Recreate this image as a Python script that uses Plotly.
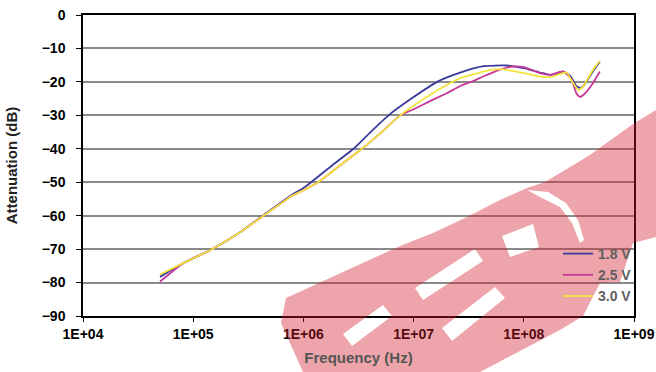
import plotly.graph_objects as go

# Frequency points (Hz) and attenuation (dB) for each supply voltage
freq_18 = [5.0e4, 8.1e4, 1.45e5, 2.7e5, 4.4e5, 7.6e5, 1.0e6, 1.175e6, 1.82e6, 2.85e6,
           4.07e6, 5.92e6, 9.55e6, 1.63e7, 2.6e7, 4.3e7, 7.0e7, 1.0e8, 1.4e8, 1.74e8,
           2.3e8, 2.65e8, 3.0e8, 3.3e8, 3.6e8, 4.25e8, 4.9e8]
att_18 = [-78.3, -74.2, -70.2, -64.8, -59.7, -54.1, -51.7, -50.0, -45.0, -40.0,
          -35.0, -30.0, -25.0, -20.0, -17.3, -15.3, -15.1, -15.9, -17.2, -17.9,
          -16.9, -18.3, -21.3, -21.8, -20.6, -16.8, -14.0]

freq_25 = [5.0e4, 6.2e4, 8.1e4, 1.45e5, 2.7e5, 4.4e5, 7.6e5, 1.0e6, 1.365e6, 2.14e6,
           3.4e6, 5.13e6, 7.57e6, 8.9e6, 1.06e7, 1.5e7, 2.0e7, 2.63e7, 3.55e7, 4.27e7,
           6.0e7, 8.0e7, 1.0e8, 1.22e8, 1.4e8, 1.74e8, 2.3e8, 2.72e8, 3.0e8, 3.24e8,
           3.6e8, 4.25e8, 4.9e8]
att_25 = [-79.7, -77.2, -74.2, -70.2, -64.8, -59.9, -54.4, -52.4, -50.0, -45.0,
          -40.0, -35.0, -30.0, -28.9, -27.8, -25.3, -23.4, -21.3, -19.6, -18.4,
          -16.4, -15.4, -15.6, -16.6, -17.4, -17.9, -16.9, -19.4, -23.4, -24.5,
          -23.4, -20.3, -16.9]

freq_30 = [5.0e4, 8.1e4, 1.45e5, 2.7e5, 4.4e5, 7.6e5, 1.0e6, 1.365e6, 2.14e6, 3.4e6,
           5.13e6, 7.57e6, 1.26e7, 2.19e7, 2.6e7, 4.3e7, 6.1e7, 8.6e7, 1.4e8, 1.74e8,
           2.15e8, 2.45e8, 2.8e8, 3.13e8, 3.45e8, 4.25e8, 4.9e8]
att_30 = [-77.6, -74.2, -70.2, -64.8, -59.9, -54.4, -52.4, -50.0, -45.0, -40.0,
          -35.0, -30.0, -24.9, -20.2, -19.0, -16.9, -16.2, -16.9, -18.4, -18.6,
          -17.6, -17.2, -20.3, -22.4, -21.4, -16.4, -13.7]

series_names = ["1.8 V", "2.5 V", "3.0 V"]
series_colors = ["#3a3a9a", "#c8389a", "#f2e43a"]

x_tickvals = [1e4, 1e5, 1e6, 1e7, 1e8, 1e9]
x_ticktext = ["1E+04", "1E+05", "1E+06", "1E+07", "1E+08", "1E+09"]
y_tickvals = [0, -10, -20, -30, -40, -50, -60, -70, -80, -90]

FONT = "Liberation Sans, Arial, sans-serif"

fig = go.Figure()
for f, a, name, col in zip([freq_18, freq_25, freq_30], [att_18, att_25, att_30],
                           series_names, series_colors):
    fig.add_trace(go.Scatter(x=f, y=a, mode="lines", name=name,
                             line=dict(color=col, width=1.8, shape="spline", smoothing=0.5)))

# plot area in pixels (used to place the backdrop and watermark)
L, R, T, B = 83, 634, 15, 316


def px(x, y):
    return (x - L) / (R - L), (B - y) / (B - T)


def ring(points):
    pts = [px(x, y) for x, y in points]
    return "M" + " L".join(f"{u:.4f},{v:.4f}" for u, v in pts) + " Z"


outline = [(303, 372), (281, 323), (286, 298), (400, 246), (433, 233), (467, 217),
           (500, 200), (527, 188), (545, 182), (590, 155), (633, 124), (656, 110),
           (656, 237), (633, 243), (620, 282), (600, 283), (583, 316), (560, 330),
           (480, 372)]
holes = [
    [(343, 334), (383, 305), (392, 316), (352, 346)],
    [(415, 288), (475, 249), (483, 261), (423, 300)],
    [(442, 328), (495, 287), (505, 298), (452, 341)],
    [(502, 236), (533, 224), (539, 247), (510, 257)],
    [(527, 190), (548, 192), (566, 203), (578, 220), (584, 240), (580, 243),
     (572, 223), (560, 207), (542, 198)],
]
wm_path = " ".join([ring(outline)] + [ring(h) for h in holes])

bx0, by0 = px(555, 300)
bx1, by1 = px(617, 240)

fig.update_layout(
    width=656, height=372,
    margin=dict(l=L, r=656 - R, t=T, b=372 - B),
    paper_bgcolor="white", plot_bgcolor="white",
    font=dict(family=FONT, size=14, color="black"),
    showlegend=True,
    legend=dict(x=(558 - L) / (R - L), y=(B - 238) / (B - T), xanchor="left", yanchor="top",
                bgcolor="rgba(0,0,0,0)", borderwidth=0,
                font=dict(family=FONT, size=14, color="#606060", weight="bold")),
    xaxis=dict(type="log", range=[4, 9], tickvals=x_tickvals, ticktext=x_ticktext,
               automargin=False,
               showgrid=False, zeroline=False, showline=True, linecolor="black",
               linewidth=1.5, mirror=True, ticks="outside", ticklen=4, tickcolor="black",
               tickfont=dict(family=FONT, size=14, color="black", weight="bold"),
               title=dict(text="Frequency (Hz)", standoff=12,
                          font=dict(family=FONT, size=15, color="#555555", weight="bold"))),
    yaxis=dict(range=[-90, 0], tickvals=y_tickvals, automargin=False,
               showgrid=True, gridcolor="#8a8a8a",
               gridwidth=1.5, zeroline=False, showline=True, linecolor="black",
               linewidth=1.5, mirror=True, ticks="outside", ticklen=5, tickcolor="black",
               ticklabelstandoff=8,
               tickfont=dict(family=FONT, size=14, color="black", weight="bold"),
               title=dict(text="Attenuation (dB)", standoff=20,
                          font=dict(family=FONT, size=15, color="#222222", weight="bold"))),
    shapes=[
        # blank backdrop behind the legend entries
        dict(type="rect", xref="paper", yref="paper", x0=bx0, y0=by0, x1=bx1, y1=by1,
             fillcolor="white", line=dict(width=0), layer="between"),
        # translucent logo stamp
        dict(type="path", xref="paper", yref="paper", path=wm_path,
             fillrule="evenodd", fillcolor="rgba(210,30,45,0.4)",
             line=dict(width=0), layer="above"),
    ],
)

fig.write_html("out.html")
